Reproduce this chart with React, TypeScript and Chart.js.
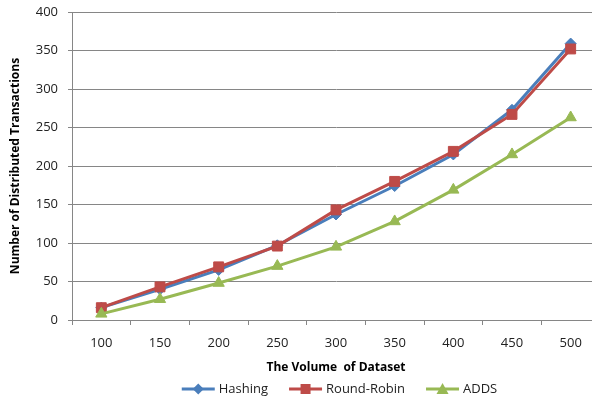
import React, { useEffect, useRef } from "react";
import { Chart, registerables } from "chart.js";

Chart.register(...registerables);

const categories = ["100", "150", "200", "250", "300", "350", "400", "450", "500"];
const hashing = [16, 40, 65, 97, 137, 174, 215, 273, 359];
const roundRobin = [16, 43, 69, 96, 143, 180, 219, 267, 352];
const adds = [8, 27, 48, 70, 95, 128, 169, 215, 263];
const seriesNames = ["Hashing", "Round-Robin", "ADDS"];

const COLORS = ["#4A7EBB", "#BE4B48", "#98B954"];
const MARKERS = ["rectRot", "rect", "triangle"];
const RADII = [5.5, 7, 6.5];
const FONT = "'Open Sans', 'Noto Sans', sans-serif";

const customLegend = {
  id: "customLegend",
  afterDraw(chart: any) {
    const ctx = chart.ctx as CanvasRenderingContext2D;
    ctx.save();
    ctx.font = `13px ${FONT}`;
    const lineLen = 33;
    const gapText = 4;
    const gapItem = 21;
    const widths = seriesNames.map((n) => ctx.measureText(n).width);
    const total =
      widths.reduce((a, w) => a + lineLen + gapText + w, 0) + gapItem * (seriesNames.length - 1);
    let x = 339.5 - total / 2;
    const y = 389;
    seriesNames.forEach((name, i) => {
      ctx.strokeStyle = COLORS[i];
      ctx.fillStyle = COLORS[i];
      ctx.lineWidth = 3;
      ctx.beginPath();
      ctx.moveTo(x, y);
      ctx.lineTo(x + lineLen, y);
      ctx.stroke();
      const cx = x + lineLen / 2;
      ctx.beginPath();
      if (MARKERS[i] === "rect") {
        ctx.rect(cx - 5, y - 5, 10, 10);
      } else if (MARKERS[i] === "rectRot") {
        ctx.moveTo(cx, y - 5.5);
        ctx.lineTo(cx + 5.5, y);
        ctx.lineTo(cx, y + 5.5);
        ctx.lineTo(cx - 5.5, y);
        ctx.closePath();
      } else {
        ctx.moveTo(cx, y - 6);
        ctx.lineTo(cx + 6, y + 5);
        ctx.lineTo(cx - 6, y + 5);
        ctx.closePath();
      }
      ctx.fill();
      ctx.fillStyle = "#222";
      ctx.textBaseline = "middle";
      ctx.textAlign = "left";
      ctx.fillText(name, x + lineLen + gapText, y);
      x += lineLen + gapText + widths[i] + gapItem;
    });
    ctx.restore();
  },
};

export default function App() {
  const ref = useRef<HTMLCanvasElement>(null);
  useEffect(() => {
    if (!ref.current) return;
    const data = [hashing, roundRobin, adds];
    const chart = new Chart(ref.current, {
      type: "line",
      data: {
        labels: categories,
        datasets: data.map((d, i) => ({
          label: seriesNames[i],
          data: d,
          borderColor: COLORS[i],
          backgroundColor: COLORS[i],
          borderWidth: 3,
          pointStyle: MARKERS[i] as any,
          pointRadius: RADII[i],
          pointBorderWidth: 1,
          tension: 0,
          order: 3 - i,
        })),
      },
      options: {
        responsive: false,
        animation: false,
        layout: { padding: { left: 0, right: 8, top: 12, bottom: 22 } },
        plugins: {
          tooltip: { enabled: false },
          legend: { display: false },
        },
        scales: {
          x: {
            type: "category",
            offset: true,
            afterFit: (s: any) => {
              s.height = 58;
            },
            grid: {
              offset: true,
              drawOnChartArea: false,
              tickLength: 5,
              color: "#868686",
            },
            border: { color: "#868686" },
            ticks: {
              font: { family: FONT, size: 13 },
              color: "#222",
              padding: 10,
              maxRotation: 0,
            },
            title: {
              display: true,
              text: "The Volume  of Dataset",
              font: { family: FONT, size: 12, weight: "bold" },
              color: "#000",
              padding: { top: 4, bottom: 3 },
            },
          },
          y: {
            min: 0,
            max: 400,
            afterFit: (s: any) => {
              s.width = 72;
              s.paddingTop = 0;
              s.paddingBottom = 0;
            },
            grid: { color: "#868686", tickLength: 4 },
            border: { color: "#868686" },
            ticks: {
              stepSize: 50,
              font: { family: FONT, size: 13 },
              color: "#222",
              padding: 10,
            },
            title: {
              display: true,
              text: "Number of Distributed Transactions",
              font: { family: FONT, size: 12, weight: "bold" },
              color: "#000",
              padding: { top: 8, bottom: 2 },
            },
          },
        },
      },
      plugins: [customLegend],
    });
    return () => chart.destroy();
  }, []);
  return (
    <div
      style={{
        position: "fixed",
        left: 0,
        top: 0,
        width: 592,
        height: 400,
        overflow: "hidden",
        background: "#fff",
      }}
    >
      <canvas ref={ref} width={608} height={400} />
    </div>
  );
}
